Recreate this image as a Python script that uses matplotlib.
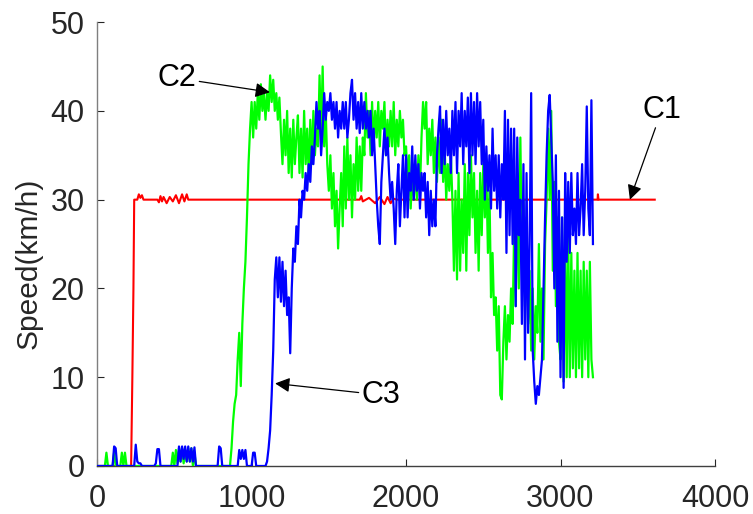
import matplotlib
matplotlib.use("Agg")
from matplotlib import pyplot as plt
from matplotlib.ticker import MultipleLocator


# C1: red, speed held at 30 km/h
c1_time = [0, 220, 228, 235, 240, 260, 270, 280, 290, 300, 390, 400, 410, 420, 430,
           450, 470, 490, 510, 530, 550, 565, 580, 590, 1700, 1710, 1720, 1760, 1800,
           1830, 1860, 1880, 1900, 1920, 1940, 3240, 3242, 3246, 3610]
c1_speed = [0, 0, 10, 20, 30, 30, 30.6, 30.2, 30.5, 30, 30, 29.7, 30.4, 29.8, 30.3,
            29.6, 30.3, 29.8, 30.5, 29.6, 30.6, 29.8, 30.6, 30, 30, 30.4, 29.8, 30.2, 29.6,
            30.3, 29.5, 30.3, 29.6, 30.1, 30, 30, 30.6, 30, 30]

# C2 and C3 are sampled every 10 s, from 0 to 3210 s
sample_time = list(range(0, 3211, 10))

# C2: green
c2_speed = [
    0, 0, 0, 0, 0, 0, 1.5, 0, 0, 0,
    0, 1.5, 0, 0, 0, 0, 1.5, 0, 1.5, 0,
    0, 0, 0, 0, 0, 0, 0, 0, 0, 0,
    0, 0, 0, 0, 0, 0, 0, 0, 0, 0,
    0, 0, 0, 0, 0, 0, 0, 0, 0, 1.5,
    0, 1.8, 0.3, 2, 0.5, 2, 0.3, 1.8, 0.5, 2,
    0.5, 2, 0, 1.5, 0, 0, 0, 0, 0, 0,
    0, 0, 0, 0, 0, 0, 0, 0, 0, 0,
    0, 0, 0, 0, 0, 0, 0, 2, 5, 7,
    8, 12, 15, 9, 16, 20, 23, 28, 34, 38,
    41, 37, 41, 38, 42, 39, 43, 40, 42, 39,
    42, 40, 44, 41, 43.5, 40, 42, 39, 41.5, 37.5,
    34, 39, 35, 40, 33, 38, 32.5, 39, 34, 37,
    39.5, 33, 38, 32.5, 40, 34, 38, 32.5, 39, 34,
    40, 35, 38, 36, 44, 37, 45, 36, 40, 34,
    31, 35, 29, 33, 27, 31, 24.5, 29, 33, 27,
    36, 29, 37, 30, 35, 28, 34, 30, 37, 31,
    36, 31, 37, 35, 42, 37, 40, 35, 41, 36,
    40, 37, 41, 36, 40, 38, 41, 35, 39, 36,
    40, 36, 41, 35, 39, 36, 40, 37, 39, 35,
    36, 32, 35, 29, 33, 30, 34, 30, 35, 31,
    37, 41, 38, 41, 34, 38, 35, 39, 33, 37,
    32, 37, 33, 39, 32, 36, 30, 34, 31, 35,
    30, 22, 31, 21, 33, 22, 30, 24, 34, 22,
    33, 26, 35, 28, 33, 24, 31, 22, 33, 26,
    34, 28, 33, 24, 31, 19, 24, 17, 19, 13,
    18, 8, 7.5, 14, 18, 12, 17, 14, 20, 16,
    27, 18, 33, 20, 37, 24, 30, 18, 28, 16,
    22, 13, 20, 12, 18, 15, 25, 14, 20, 12,
    25, 30, 38, 30, 40, 22, 32, 18, 28, 14,
    12, 28, 9.5, 25, 10, 26, 10, 24, 11, 22,
    10, 24, 11, 22, 10, 23, 12, 22, 10, 23,
    12, 10,
]

# C3: blue
c3_speed = [
    0, 0, 0, 0, 0, 0, 0, 0, 0, 0,
    0, 2.2, 2, 0, 0, 0, 0, 0, 0, 0,
    0, 0, 0, 0, 0, 2.4, 0.5, 0.3, 0.3, 0,
    0, 0, 0, 0, 0, 0, 0, 0, 0.3, 1.9,
    1.9, 0, 0, 0, 0, 0, 0, 0, 0, 0,
    0, 0, 0, 2.2, 0.5, 2.2, 0.8, 2.2, 0.5, 2.2,
    0.5, 2, 0.5, 2.1, 0, 0, 0, 0, 0, 0,
    0, 0, 0, 0, 0, 0, 0, 0, 0, 2.2,
    2, 0, 0, 0, 0, 0, 0, 0, 0, 0,
    0, 0, 1.8, 0.8, 1.8, 0.8, 1.8, 0, 0, 0,
    0, 1.5, 1.5, 0, 0, 0, 0, 0, 0, 0,
    0.5, 2, 4, 8, 13, 21, 23.5, 19, 23.5, 18.5,
    23, 18, 22, 17, 19, 12.7, 20, 24.5, 23, 27,
    25, 30, 28, 31, 30, 33, 31, 34, 32, 36,
    34, 37, 41, 38, 40, 35, 38, 42, 39, 41,
    40, 42, 39, 41, 38, 41, 37, 40, 38, 41,
    38, 41, 37, 39, 42, 43.5, 39, 42, 38, 41,
    37.5, 42, 38, 41, 38, 40, 37, 40, 35, 38,
    34, 30, 27, 25, 32, 35, 38, 35, 37, 33,
    30, 32, 29, 25, 31, 34, 27, 31, 35, 28,
    35, 28, 33, 31, 36, 30, 35, 31, 34, 29,
    33, 31, 33, 28, 32, 26, 31, 27, 30, 27,
    35, 38, 40.5, 33, 39, 34, 40, 35, 38, 33,
    40, 35, 41, 33, 40, 36, 42, 34, 40, 36,
    41.5, 33, 42, 35, 41, 34, 42, 36, 41, 34,
    39, 30, 36, 31, 35, 29, 38, 31, 35, 29,
    35, 28, 34, 30, 40, 24, 39, 26, 38, 25,
    38, 18, 37, 26, 30, 16, 34, 12, 33, 15,
    25, 42, 13, 9.5, 7, 9, 8, 10, 12, 20,
    28, 35, 40, 41.8, 37, 32, 20, 35, 14, 31,
    10, 28, 8.8, 33, 23, 32, 24, 33, 26, 29,
    25, 33, 26, 29, 34, 26, 31, 40.5, 29, 26,
    41.2, 25,
]

TEXT = "#262626"


def main() -> None:
    plt.rcParams["font.family"] = ["Liberation Sans", "DejaVu Sans"]

    fig = plt.figure(figsize=(7.53, 5.14), dpi=100)
    ax = fig.add_axes([0.129, 0.0934, 0.8205, 0.8636])

    ax.plot(c1_time, c1_speed, color="#ff0000", linewidth=1.5, zorder=2)
    ax.plot(sample_time, c2_speed, color="#00ff00", linewidth=1.6, zorder=3)
    ax.plot(sample_time, c3_speed, color="#0000ff", linewidth=1.6, zorder=4)

    ax.set_xlim(0, 4000)
    ax.set_ylim(0, 50)
    ax.xaxis.set_major_locator(MultipleLocator(1000))
    ax.yaxis.set_major_locator(MultipleLocator(10))
    ax.tick_params(direction="in", length=5, width=0.8, colors=TEXT,
                   labelsize=22, labelcolor=TEXT)
    ax.tick_params(axis="x", pad=13)
    ax.tick_params(axis="y", pad=9)
    ax.spines["top"].set_visible(False)
    ax.spines["right"].set_visible(False)
    ax.spines["left"].set_color("#7f7f7f")
    ax.spines["bottom"].set_color("#404040")
    ax.spines["left"].set_linewidth(1.0)
    ax.spines["bottom"].set_linewidth(1.0)
    ax.set_ylabel("Speed(km/h)", fontsize=21.5, color=TEXT)
    ax.yaxis.set_label_coords(-0.089, 0.457)

    arrow = dict(arrowstyle="-|>", color="black", lw=0.9, mutation_scale=22,
                 shrinkA=0, shrinkB=0)
    ax.annotate("C2", xy=(1119, 42.1), xytext=(518, 43.7), fontsize=22,
                ha="center", va="center", arrowprops=arrow)
    ax.annotate("C1", xy=(3449, 30.0), xytext=(3656, 40.1), fontsize=22,
                ha="center", va="center", arrowprops=arrow)
    ax.annotate("C3", xy=(1152, 9.3), xytext=(1837, 8.0), fontsize=22,
                ha="center", va="center", arrowprops=arrow)

    fig.savefig("out.png", dpi=100)
    plt.close(fig)


if __name__ == "__main__":
    main()
